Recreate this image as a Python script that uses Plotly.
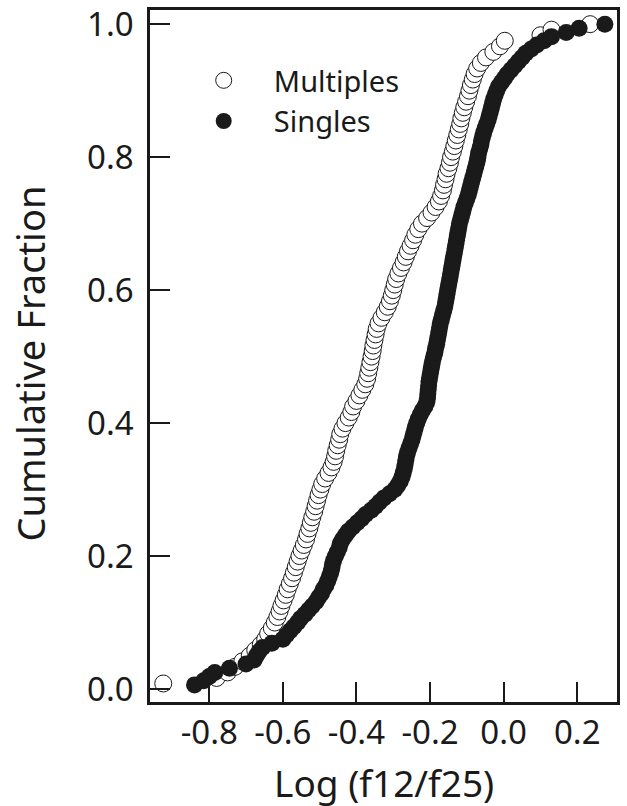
import plotly.graph_objects as go

multiples_x = [
    -0.925, -0.78, -0.75, -0.73, -0.71, -0.69, -0.675, -0.66, -0.648, -0.64,
    -0.63, -0.622, -0.615, -0.609, -0.604, -0.598, -0.592, -0.587, -0.581, -0.575,
    -0.57, -0.565, -0.56, -0.555, -0.549, -0.543, -0.537, -0.533, -0.528, -0.524,
    -0.52, -0.515, -0.511, -0.507, -0.503, -0.498, -0.493, -0.485, -0.476, -0.468,
    -0.462, -0.458, -0.455, -0.451, -0.447, -0.444, -0.438, -0.43, -0.421, -0.414,
    -0.409, -0.4, -0.392, -0.384, -0.376, -0.371, -0.368, -0.365, -0.362, -0.359,
    -0.356, -0.354, -0.351, -0.348, -0.345, -0.34, -0.332, -0.323, -0.315, -0.309,
    -0.304, -0.3, -0.296, -0.292, -0.286, -0.279, -0.272, -0.266, -0.26, -0.253,
    -0.246, -0.24, -0.232, -0.222, -0.208, -0.196, -0.185, -0.176, -0.17, -0.165,
    -0.162, -0.158, -0.155, -0.15, -0.146, -0.143, -0.138, -0.134, -0.13, -0.126,
    -0.122, -0.118, -0.115, -0.111, -0.107, -0.102, -0.097, -0.093, -0.089, -0.084,
    -0.079, -0.072, -0.062, -0.048, -0.028, -0.01, 0.003, 0.1, 0.13, 0.235,
]

singles_x = [
    -0.84, -0.815, -0.80, -0.785, -0.745, -0.70, -0.678, -0.672, -0.665, -0.655,
    -0.63, -0.60, -0.59, -0.58, -0.57, -0.56, -0.552, -0.54, -0.53, -0.52,
    -0.51, -0.503, -0.495, -0.49, -0.483, -0.478, -0.474, -0.47, -0.467, -0.465,
    -0.462, -0.457, -0.452, -0.447, -0.444, -0.438, -0.43, -0.422, -0.41, -0.398,
    -0.386, -0.375, -0.36, -0.348, -0.337, -0.325, -0.31, -0.296, -0.288, -0.281,
    -0.276, -0.273, -0.27, -0.268, -0.266, -0.264, -0.261, -0.257, -0.253, -0.249,
    -0.246, -0.243, -0.24, -0.236, -0.232, -0.227, -0.221, -0.214, -0.209, -0.207,
    -0.206, -0.205, -0.204, -0.203, -0.201, -0.199, -0.197, -0.195, -0.193, -0.19,
    -0.187, -0.185, -0.182, -0.18, -0.178, -0.176, -0.174, -0.172, -0.169, -0.166,
    -0.163, -0.16, -0.158, -0.156, -0.154, -0.152, -0.15, -0.148, -0.146, -0.144,
    -0.142, -0.14, -0.138, -0.136, -0.134, -0.132, -0.13, -0.128, -0.126, -0.124,
    -0.122, -0.12, -0.117, -0.114, -0.111, -0.108, -0.104, -0.1, -0.096, -0.093,
    -0.09, -0.087, -0.084, -0.081, -0.078, -0.075, -0.072, -0.07, -0.068, -0.065,
    -0.062, -0.06, -0.057, -0.054, -0.05, -0.046, -0.042, -0.039, -0.036, -0.033,
    -0.03, -0.027, -0.023, -0.019, -0.014, -0.006, 0.002, 0.01, 0.02, 0.03,
    0.04, 0.05, 0.06, 0.075, 0.09, 0.11, 0.13, 0.17, 0.205, 0.275,
]

x_ticks = [-0.8, -0.6, -0.4, -0.2, 0.0, 0.2]
y_ticks = [0.0, 0.2, 0.4, 0.6, 0.8, 1.0]
series_names = ["Multiples", "Singles"]
x_title = "Log (f12/f25)"
y_title = "Cumulative Fraction"


def cumfrac(vals):
    n = len(vals)
    return [(i + 1) / n for i in range(n)]


FONT = "Noto Sans"
INK = "#1a1a1a"
PAD = "\u00a0" * 4

fig = go.Figure()
fig.add_trace(go.Scatter(
    x=multiples_x, y=cumfrac(multiples_x), mode="markers", name=PAD + series_names[0],
    marker=dict(symbol="circle", size=17, color="white",
                line=dict(color=INK, width=1)),
))
fig.add_trace(go.Scatter(
    x=singles_x, y=cumfrac(singles_x), mode="markers", name=PAD + series_names[1],
    marker=dict(symbol="circle", size=17, color=INK,
                line=dict(color=INK, width=0)),
))

axis_common = dict(
    showgrid=False, zeroline=False, showline=True, linecolor=INK, linewidth=2.5,
    mirror=True, ticks="inside", ticklen=20, tickwidth=2, tickcolor=INK,
    tickfont=dict(family=FONT, size=33, color=INK), automargin=False,
    ticklabeloverflow="allow",
)

fig.update_layout(
    width=627, height=806,
    margin=dict(l=150, r=10, t=10, b=104),
    paper_bgcolor="white", plot_bgcolor="white",
    font=dict(family=FONT, color=INK),
    xaxis=dict(
        range=[-0.961, 0.308], tickvals=x_ticks,
        ticktext=[f"{v:.1f}" for v in x_ticks],
        **axis_common,
    ),
    yaxis=dict(
        range=[-0.0195, 1.0213], tickvals=y_ticks,
        ticktext=[f"{v:.1f}" for v in y_ticks],
        ticklabelstandoff=7,
        **axis_common,
    ),
    legend=dict(
        x=0.115, y=0.935, xanchor="left", yanchor="top",
        bgcolor="rgba(0,0,0,0)", borderwidth=0,
        font=dict(family=FONT, size=29, color=INK),
        itemsizing="trace",
    ),
    annotations=[
        dict(text=x_title, xref="paper", yref="paper", x=0.5, y=0,
             xanchor="center", yanchor="middle", yshift=-80, showarrow=False,
             font=dict(family=FONT, size=37, color=INK)),
        dict(text=y_title, xref="paper", yref="paper", x=0, y=0.489,
             xanchor="center", yanchor="middle", xshift=-120, textangle=-90,
             showarrow=False, font=dict(family=FONT, size=38, color=INK)),
    ],
)

fig.write_html(
    "out.html",
    config={"displayModeBar": False},
    post_script="document.body.style.margin='0px';document.body.style.padding='0px';",
)
